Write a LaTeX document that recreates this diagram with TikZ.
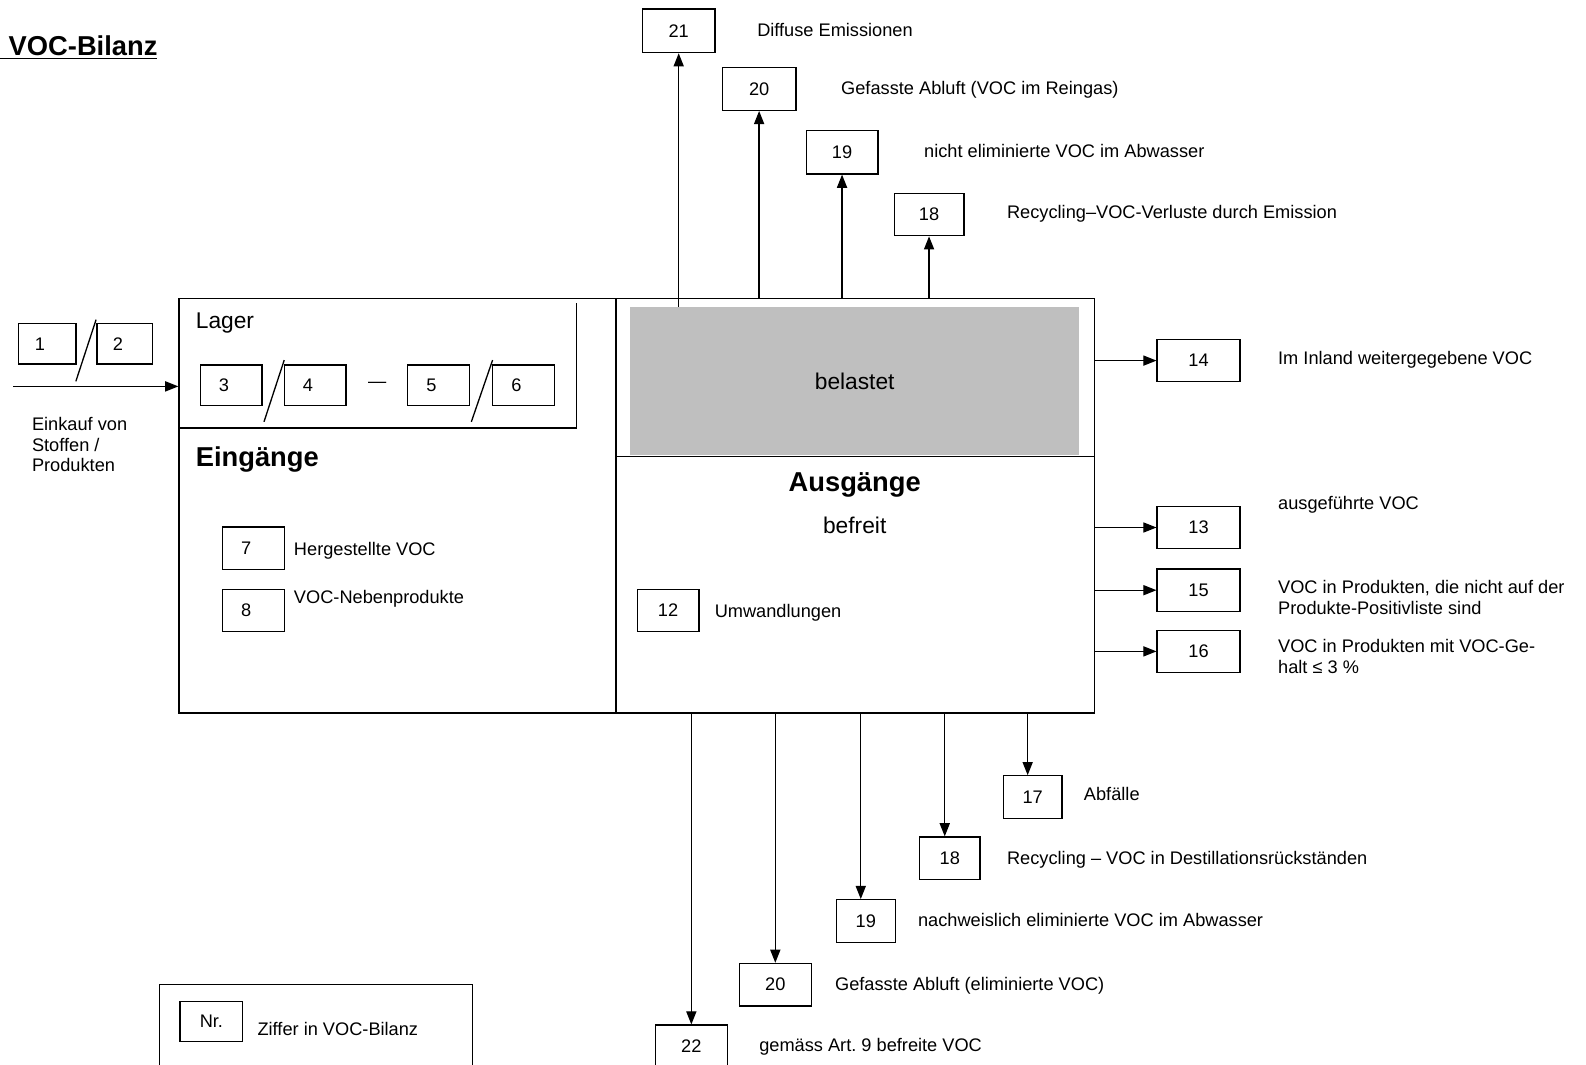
\documentclass[tikz,border=0pt]{standalone}
\usepackage{fontspec}
\setmainfont{Liberation Sans}
\usetikzlibrary{arrows.meta}

\tikzset{
  nrbox/.style={draw, minimum width=61pt, minimum height=42pt, inner sep=0pt,
    font=\fontsize{18}{21}\selectfont},
  nrleft/.style={nrbox, text width=24pt, align=left},
  lbl/.style={anchor=base west, inner sep=0pt, font=\fontsize{18}{21}\selectfont},
  lbltwo/.style={anchor=west, inner sep=0pt, align=left, font=\fontsize{18}{20.5}\selectfont},
  big/.style={inner sep=0pt, font=\fontsize{22.5}{26}\selectfont},
  head/.style={inner sep=0pt, font=\bfseries\fontsize{27}{31}\selectfont},
  flow/.style={-{Triangle[length=13pt,width=10pt]}},
}

\begin{document}
\begin{tikzpicture}[x=1pt, y=-1pt, line width=1.3pt]
\useasboundingbox (0,0) rectangle (1568,1052);

% Title
\node[head, anchor=base west] (title) at (8,55) {VOC-Bilanz};
\draw (0,58) -- (155,58);

% Main frame
\node[draw, minimum width=905pt, minimum height=410pt, inner sep=0pt] (main) at (629.5,500) {};
\draw (609,295) -- (609,705);
\draw (609,451) -- (1082,451);
\node[big, fill=black!25, minimum width=444pt, minimum height=146pt] (grey) at (845,377) {belastet};

% Lager
\draw (177,423) -- (570,423) -- (570,300);
\node[big, anchor=base west] (lager) at (193,325) {Lager};
\node[nrleft, minimum height=40pt] (b3) at (228.5,381) {3};
\node[nrleft, minimum height=40pt] (b4) at (311.5,381) {4};
\node[nrleft, minimum height=40pt] (b5) at (433.5,381) {5};
\node[nrleft, minimum height=40pt] (b6) at (517.5,381) {6};
\draw (261,417) -- (281,356);
\draw (466,417) -- (487,356);
\node[lbl, anchor=center] (dash) at (373,381) {—};

% Eingaenge
\node[head, anchor=base west] (ein) at (193,461) {Eingänge};
\node[nrleft] (b7) at (250.5,542) {7};
\node[lbl] at (290,549.5) {Hergestellte VOC};
\node[nrleft] (b8) at (250.5,603.5) {8};
\node[lbl] at (290,596.5) {VOC-Nebenprodukte};

% Ausgaenge
\node[head, anchor=base] (aus) at (845,486) {Ausgänge};
\node[big, anchor=base] (befreit) at (845,527) {befreit};
\node[nrbox] (b12) at (660.5,603.5) {12};
\node[lbl] at (706,610.5) {Umwandlungen};

% Input
\node[nrleft, minimum width=57pt, minimum height=40pt] (b1) at (46.5,340) {1};
\node[nrleft, minimum width=55pt, minimum height=40pt] (b2) at (123.5,340) {2};
\draw (75,377) -- (95,316);
\coordinate (in) at (13,382);
\draw[flow] (in) -- (in -| main.west);
\node[lbltwo] at (31,439.5) {Einkauf von\\Stoffen /\\Produkten};

% Emissions on top
\node[nrbox, minimum width=72pt, minimum height=43pt] (b21) at (671,30.5) {21};
\node[nrbox, minimum width=73pt] (b20t) at (750.5,88) {20};
\node[nrbox, minimum width=71pt, minimum height=43pt] (b19t) at (832.5,150.5) {19};
\node[nrbox, minimum width=69pt] (b18t) at (918.5,212) {18};
\node[lbl] at (748,36.5) {Diffuse Emissionen};
\node[lbl] at (831,93.5) {Gefasste Abluft (VOC im Reingas)};
\node[lbl] at (913,155.5) {nicht eliminierte VOC im Abwasser};
\node[lbl] at (995,216.5) {Recycling–VOC-Verluste durch Emission};
\draw[flow] (b21 |- grey.north) -- (b21);
\draw[flow] (b20t |- main.north) -- (b20t);
\draw[flow] (b19t |- main.north) -- (b19t);
\draw[flow] (b18t |- main.north) -- (b18t);

% Outputs on the right
\node[nrbox, minimum width=82pt] (b14) at (1185,356.5) {14};
\node[nrbox, minimum width=82pt] (b13) at (1185,521.5) {13};
\node[nrbox, minimum width=82pt] (b15) at (1185,583.5) {15};
\node[nrbox, minimum width=82pt] (b16) at (1185,644) {16};
\node[lbl] at (1263,360.5) {Im Inland weitergegebene VOC};
\node[lbl] at (1263,503.5) {ausgeführte VOC};
\node[lbltwo] at (1263,590.5) {VOC in Produkten, die nicht auf der\\Produkte-Positivliste sind};
\node[lbltwo] at (1263,649) {VOC in Produkten mit VOC-Ge-\\halt ≤ 3 \%};
\foreach \b in {b14,b13,b15,b16}
  \draw[flow] (main.east |- \b) -- (\b);

% Outputs below
\node[nrbox, minimum width=58pt] (b17) at (1021,788) {17};
\node[nrbox, minimum width=60pt] (b18b) at (939,848.5) {18};
\node[nrbox, minimum width=58pt] (b19b) at (856,910.5) {19};
\node[nrbox, minimum width=71pt] (b20b) at (766.5,973.5) {20};
\node[nrbox, minimum width=71pt] (b22) at (683.5,1034.5) {22};
\node[lbl] at (1071,791.5) {Abfälle};
\node[lbl] at (995,854.5) {Recycling – VOC in Destillationsrückständen};
\node[lbl] at (907,915.5) {nachweislich eliminierte VOC im Abwasser};
\node[lbl] at (825,979.5) {Gefasste Abluft (eliminierte VOC)};
\node[lbl] at (750,1039.5) {gemäss Art.\ 9 befreite VOC};
\coordinate (e17) at ([xshift=-5pt]b17.north);
\coordinate (e18) at ([xshift=-5pt]b18b.north);
\coordinate (e19) at ([xshift=-5pt]b19b.north);
\draw[flow] (e17 |- main.south) -- (e17);
\draw[flow] (e18 |- main.south) -- (e18);
\draw[flow] (e19 |- main.south) -- (e19);
\draw[flow] (b20b |- main.south) -- (b20b);
\draw[flow] (b22 |- main.south) -- (b22);

% Legend
\draw (158,1070) |- (467,973) -- (467,1070);
\node[nrbox, minimum width=62pt, minimum height=40pt] (nr) at (209,1010) {Nr.};
\node[lbl] at (254,1023.5) {Ziffer in VOC-Bilanz};
\end{tikzpicture}
\end{document}
